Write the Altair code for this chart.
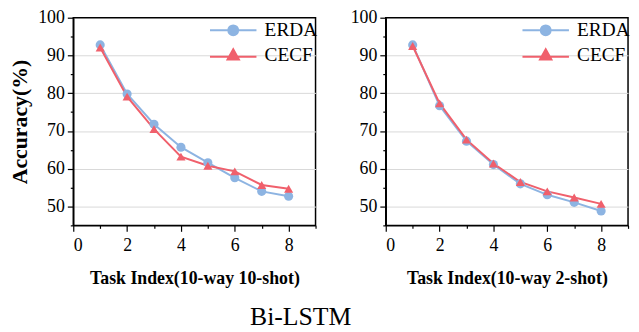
import altair as alt
import pandas as pd

task_index = [1, 2, 3, 4, 5, 6, 7, 8]
methods = ["ERDA", "CECF"]
erda_10shot = [92.8, 79.8, 71.8, 65.7, 61.6, 57.6, 54.0, 52.7]
cecf_10shot = [92.1, 79.1, 70.5, 63.2, 60.8, 59.3, 55.7, 54.7]
erda_2shot = [92.8, 76.7, 67.3, 61.1, 56.0, 53.1, 51.1, 48.8]
cecf_2shot = [92.5, 77.3, 67.7, 61.4, 56.5, 54.0, 52.4, 50.7]
colors = ["#8DB4E2", "#F0606C"]
shapes = ["circle", "triangle-up"]

FONT = "Liberation Serif"


def make_df(erda, cecf):
    rows = []
    for m, vals in zip(methods, [erda, cecf]):
        for t, v in zip(task_index, vals):
            rows.append({"task": t, "acc": v, "method": m})
    return pd.DataFrame(rows)


circle_path = "M-4.7,0L4.7,0M-1,0A1,1,0,1,0,1,0A1,1,0,1,0,-1,0Z"
tri_path = "M-4.7,0.35L4.7,0.35M0,-1.15L1.15,0.9L-1.15,0.9Z"


def pick(a, b):
    return alt.ExprRef("datum.value === 'ERDA' ? '" + a + "' : '" + b + "'")


def panel(df, xtitle, ytitle):
    color_scale = alt.Scale(domain=methods, range=colors)
    x = alt.X("task:Q", scale=alt.Scale(domain=[0, 9], nice=False),
              axis=alt.Axis(values=list(range(0, 10)), title=xtitle,
                            labelExpr="datum.value % 2 === 0 ? datum.label : ''",
                            tickSize={"condition": {"test": "datum.value % 2 === 1", "value": 3}, "value": 6},
                            grid=False, labelPadding=5, titlePadding=16))
    y_axis_kwargs = dict(values=list(range(45, 101, 5)),
                         labelExpr="datum.value % 10 === 0 ? datum.label : ''",
                         tickSize={"condition": {"test": "datum.value % 10 !== 0", "value": 3}, "value": 6},
                         gridColor={"condition": {"test": "datum.value % 10 !== 0 || datum.value === 100", "value": "transparent"}, "value": "#d9d9d9"},
                         grid=True, labelPadding=3, titlePadding=6)
    if ytitle:
        y_axis = alt.Axis(title=ytitle, **y_axis_kwargs)
    else:
        y_axis = alt.Axis(title=None, **y_axis_kwargs)
    y = alt.Y("acc:Q", scale=alt.Scale(domain=[45, 100], nice=False, zero=False), axis=y_axis)

    legend = alt.Legend(
        title=None, orient="none", legendX=152, legendY=3,
        symbolSize=100, labelOffset=22, rowPadding=4, padding=0,
        labelFont=FONT, labelFontSize=19.5, labelColor="black",
        symbolType=pick(circle_path, tri_path),
        symbolStrokeColor=pick(colors[0], colors[1]),
        symbolFillColor=pick(colors[0], colors[1]),
        symbolStrokeWidth=2, symbolOpacity=1,
    )
    line = alt.Chart(df).mark_line(strokeWidth=2).encode(
        x=x, y=y,
        color=alt.Color("method:N", scale=color_scale, legend=legend),
        order=alt.Order("task:Q"),
    )
    layers = [line]
    for m, shp in zip(methods, shapes):
        layers.append(
            alt.Chart(df).transform_filter(alt.datum.method == m)
            .mark_point(filled=True, opacity=1, size=85, shape=shp)
            .encode(x=x, y=y, color=alt.Color("method:N", scale=color_scale, legend=legend))
        )
    return alt.layer(*layers).properties(width=245, height=210)


left = panel(make_df(erda_10shot, cecf_10shot), "Task Index(10-way 10-shot)", "Accuracy(%)")
right = panel(make_df(erda_2shot, cecf_2shot), "Task Index(10-way 2-shot)", None)

chart = alt.hconcat(left, right, spacing=31).resolve_scale(color="independent").properties(
    title=alt.TitleParams("Bi-LSTM", orient="bottom", anchor="middle", font=FONT,
                          fontSize=26, fontWeight="normal", color="black", offset=16, dx=-19),
    padding={"left": 0, "top": -2, "right": 0, "bottom": 0},
    background="white",
).configure_view(
    stroke="black", strokeWidth=1.5
).configure_axis(
    labelFont=FONT, labelFontSize=18, labelColor="black",
    titleFont=FONT, titleFontSize=18, titleFontWeight="bold", titleColor="black",
    domainColor="black", domainWidth=1.5, tickColor="black", tickWidth=1.2,
).configure_axisY(titleFontSize=22)

chart.save("out.html", embed_options={"renderer": "svg", "actions": False})
